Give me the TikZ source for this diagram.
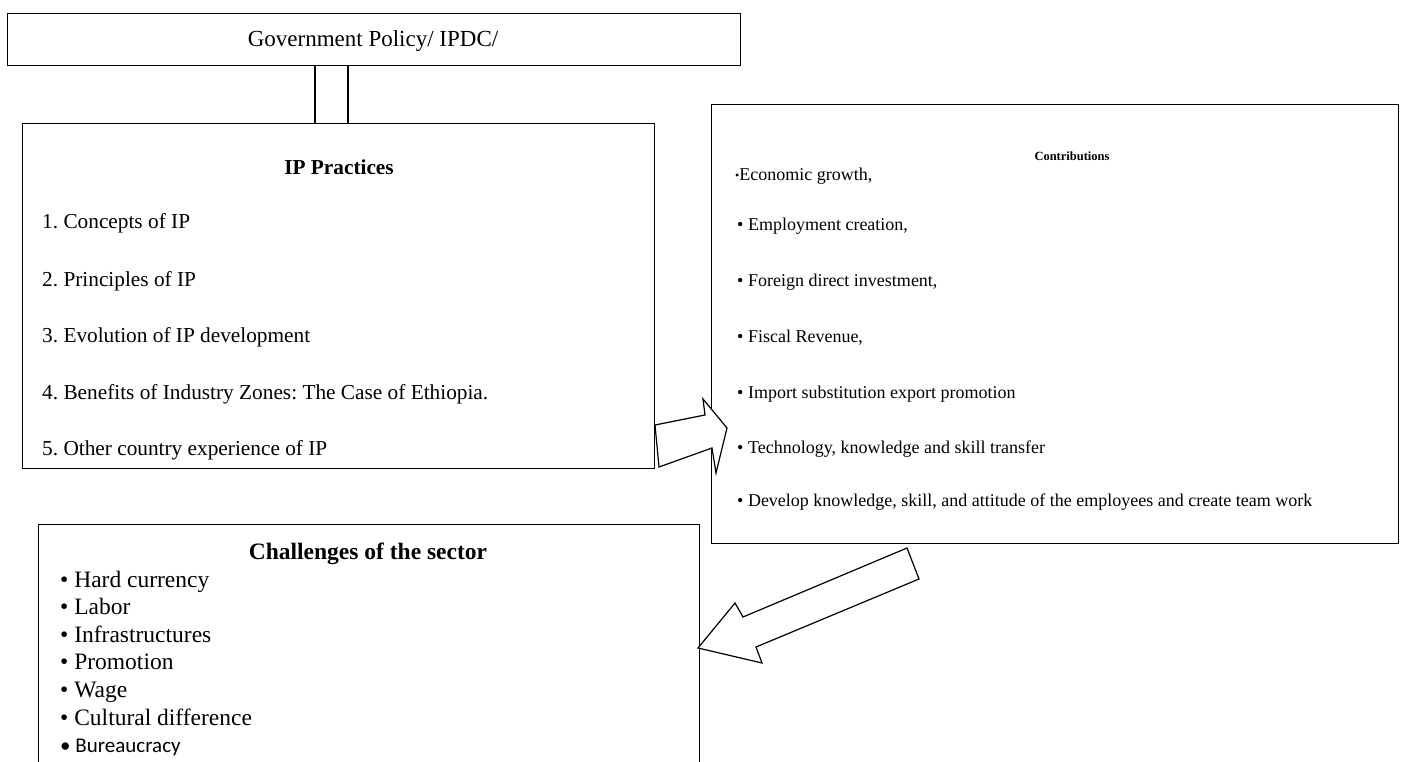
\documentclass[tikz,border=0pt]{standalone}
\usepackage{fontspec}
\setmainfont{Liberation Serif}
\newfontfamily\calibrifont{Carlito}
\usetikzlibrary{positioning}
\frenchspacing

\newcommand{\govsize}{\fontsize{23}{27}\selectfont}
\newcommand{\ipsize}{\fontsize{21.3}{25}\selectfont}
\newcommand{\contsize}{\fontsize{18}{21}\selectfont}
\newcommand{\chalsize}{\fontsize{23.5}{27}\selectfont}

\begin{document}
\begin{tikzpicture}[x=1pt,y=-1pt,
    box/.style={draw,line width=1.3pt,inner sep=0pt,anchor=north west},
    txt/.style={anchor=base west,inner sep=0pt},
    head/.style={anchor=base,inner sep=0pt},
    blockarrow/.style={draw,fill=white,line width=1.2pt,line join=miter}]
\useasboundingbox (0,0) rectangle (1402,762);

% Boxes
\node[box,minimum width=733pt,minimum height=52pt] (gov) at (7,13) {};
\node[box,minimum width=632pt,minimum height=345pt] (ip) at (22,123) {};
\node[box,minimum width=687pt,minimum height=439pt] (cont) at (711,104) {};
\node[box,minimum width=661pt,minimum height=270pt] (chal) at (38,524) {};

% Double line between policy and practices
\coordinate (pipeL) at (315,0);
\coordinate (pipeR) at (348,0);
\draw[line width=1.3pt] (gov.south -| pipeL) -- (ip.north -| pipeL);
\draw[line width=1.3pt] (gov.south -| pipeR) -- (ip.north -| pipeR);

% Government policy
\node[head,font=\govsize] (govtitle) at (373,47) {Government Policy/ IPDC/};

% IP practices
\node[head,font=\ipsize\bfseries] (iptitle) at (339,175) {IP Practices};
\node[txt,font=\ipsize] (ip1) at (42,229) {1. Concepts of IP};
\node[txt,font=\ipsize] (ip2) at (42,286) {2. Principles of IP};
\node[txt,font=\ipsize] (ip3) at (42,342) {3. Evolution of IP development};
\node[txt,font=\ipsize] (ip4) at (42,399) {4. Benefits of Industry Zones: The Case of Ethiopia.};
\node[txt,font=\ipsize] (ip5) at (42,455) {5. Other country experience of IP};

% Contributions
\node[head,font=\fontsize{12.5}{15}\selectfont\bfseries] (conttitle) at (1072,161) {Contributions};
\node[txt,font=\contsize] (c1) at (735,181) {{\fontsize{12}{12}\selectfont\raisebox{1.5pt}{•}}Economic growth,};
\node[txt,font=\contsize] (c2) at (737,230) {• Employment creation,};
\node[txt,font=\contsize] (c3) at (737,286) {• Foreign direct investment,};
\node[txt,font=\contsize] (c4) at (737,342) {• Fiscal Revenue,};
\node[txt,font=\contsize] (c5) at (737,398) {• Import substitution export promotion};
\node[txt,font=\contsize] (c6) at (737,453) {• Technology, knowledge and skill transfer};
\node[txt,font=\contsize] (c7) at (737,506) {• Develop knowledge, skill, and attitude of the employees and create team work};

% Challenges
\node[head,font=\chalsize\bfseries] (chaltitle) at (368,559) {Challenges of the sector};
\node[txt,font=\chalsize] (h1) at (60,587) {• Hard currency};
\node[txt,font=\chalsize] (h2) at (60,614) {• Labor};
\node[txt,font=\chalsize] (h3) at (60,642) {• Infrastructures};
\node[txt,font=\chalsize] (h4) at (60,669) {• Promotion};
\node[txt,font=\chalsize] (h5) at (60,697) {• Wage};
\node[txt,font=\chalsize] (h6) at (60,725) {• Cultural difference};
\node[txt,font=\calibrifont\fontsize{21}{24}\selectfont] (h7) at (60,752) {• Bureaucracy};

% Block arrows
\draw[blockarrow] (655,425) -- (705,415) -- (703,399) -- (727,428)
    -- (716,473) -- (712,448) -- (659,467) -- cycle;
\draw[blockarrow] (907,548) -- (919,579) -- (756,647) -- (762,663)
    -- (698,648) -- (735,603) -- (743,617) -- cycle;
\end{tikzpicture}
\end{document}
